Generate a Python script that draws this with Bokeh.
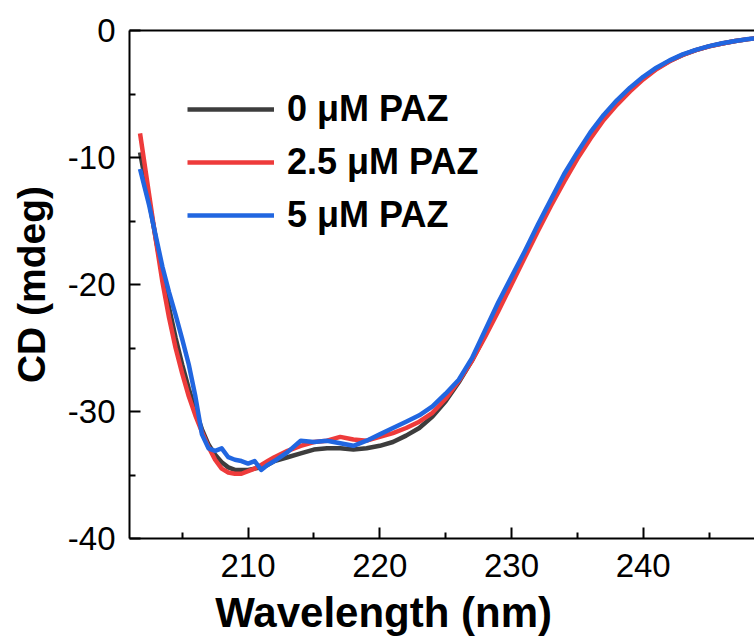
from bokeh.plotting import figure
from bokeh.models import FixedTicker, LinearAxis, Range1d, CustomJSTickFormatter
from bokeh.embed import file_html
from bokeh.resources import INLINE

wavelength = [201.8, 202.5, 203, 203.5, 204, 204.5, 205, 205.5, 206, 206.5, 207, 207.5,
              208, 208.5, 209, 209.5, 210, 210.5, 211, 211.5, 212, 213, 214, 215, 216,
              217, 218, 219, 220, 221, 222, 223, 224, 225, 226, 227, 228, 229, 230, 231,
              232, 233, 234, 235, 236, 237, 238, 239, 240, 241, 242, 243, 244, 245, 246,
              247, 248, 249, 250]

cd_0uM = [-9.6, -13.5, -16.4, -19.2, -21.8, -24.2, -26.3, -28.2, -29.9, -31.4, -32.6, -33.4,
          -34.0, -34.4, -34.6, -34.6, -34.6, -34.5, -34.4, -34.2, -33.9, -33.6, -33.3, -33.0,
          -32.9, -32.9, -33.0, -32.9, -32.7, -32.4, -31.9, -31.3, -30.4, -29.2, -27.7, -26.0,
          -24.0, -21.9, -19.8, -17.7, -15.6, -13.6, -11.6, -9.9, -8.3, -6.9, -5.7, -4.65, -3.75,
          -3.0, -2.4, -1.92, -1.55, -1.25, -1.02, -0.83, -0.68, -0.57, -0.5]

cd_2_5uM = [-8.1, -13.0, -16.5, -19.8, -22.6, -25.0, -27.0, -28.8, -30.3, -31.6, -32.8, -33.8,
            -34.5, -34.8, -34.9, -34.9, -34.7, -34.5, -34.2, -33.9, -33.6, -33.1, -32.7, -32.4,
            -32.3, -32.0, -32.2, -32.3, -32.0, -31.7, -31.3, -30.8, -30.1, -29.0, -27.6, -26.0,
            -24.1, -22.1, -20.0, -17.9, -15.8, -13.8, -11.9, -10.1, -8.5, -7.05, -5.85, -4.8, -3.85,
            -3.05, -2.42, -1.93, -1.55, -1.25, -1.02, -0.83, -0.68, -0.57, -0.5]

cd_5uM = [-10.9, -13.8, -16.2, -18.6, -20.6, -22.4, -24.3, -26.3, -28.8, -31.8, -32.9, -33.1,
          -32.9, -33.6, -33.8, -33.9, -34.1, -33.9, -34.6, -34.2, -33.9, -33.2, -32.3, -32.4,
          -32.3, -32.5, -32.7, -32.3, -31.8, -31.3, -30.8, -30.3, -29.6, -28.6, -27.5, -25.8,
          -23.6, -21.4, -19.4, -17.4, -15.3, -13.3, -11.3, -9.6, -8.0, -6.65, -5.5, -4.5, -3.65,
          -2.93, -2.35, -1.88, -1.52, -1.23, -1.0, -0.82, -0.67, -0.57, -0.5]

series_labels = ["0 \u03bcM PAZ", "2.5 \u03bcM PAZ", "5 \u03bcM PAZ"]
series_colors = ["#3d3d3d", "#ee3b3b", "#2166e0"]

x_ticks = [210, 220, 230, 240]
x_minor = [205, 215, 225, 235, 245]
y_ticks = [-40, -30, -20, -10, 0]
y_minor = [-35, -25, -15, -5]

FONT = "Liberation Sans"

p = figure(width=754, height=639, output_backend="svg", toolbar_location=None,
           x_range=Range1d(201.0, 248.45), y_range=Range1d(-40, 0),
           min_border_left=129, min_border_right=0, min_border_top=30, min_border_bottom=101)
p.outline_line_color = None
p.grid.visible = False
p.background_fill_color = "white"
p.border_fill_color = "white"

for ys, lab, col in zip([cd_0uM, cd_2_5uM, cd_5uM], series_labels, series_colors):
    p.line(wavelength, ys, line_color=col, line_width=4.5, line_join="round",
           legend_label=lab)

fmt_code = "return tick.toString();"
for ax in [p.xaxis[0], p.yaxis[0]]:
    ax.axis_line_width = 2
    ax.axis_line_color = "black"
    ax.major_tick_in = 11
    ax.major_tick_out = 0
    ax.minor_tick_in = 6
    ax.minor_tick_out = 0
    ax.major_tick_line_width = 2
    ax.minor_tick_line_width = 2
    ax.major_tick_line_color = "black"
    ax.minor_tick_line_color = "black"
    ax.major_label_text_font = FONT
    ax.major_label_text_font_size = "33px"
    ax.major_label_text_color = "black"
    ax.formatter = CustomJSTickFormatter(code=fmt_code)

p.xaxis[0].ticker = FixedTicker(ticks=x_ticks, minor_ticks=x_minor)
p.yaxis[0].ticker = FixedTicker(ticks=y_ticks, minor_ticks=y_minor)
p.xaxis[0].major_label_standoff = 15
p.yaxis[0].major_label_standoff = 14

p.yaxis[0].axis_label = "CD (mdeg)"
p.yaxis[0].axis_label_text_font = FONT
p.yaxis[0].axis_label_text_font_style = "bold"
p.yaxis[0].axis_label_text_font_size = "39px"
p.yaxis[0].axis_label_text_color = "black"
p.yaxis[0].axis_label_standoff = 12

# trailing no-break spaces move the centred label left, as in the reference
p.xaxis[0].axis_label = "Wavelength (nm)" + "\u00a0" * 10
p.xaxis[0].axis_label_text_font = FONT
p.xaxis[0].axis_label_text_font_style = "bold"
p.xaxis[0].axis_label_text_font_size = "42px"
p.xaxis[0].axis_label_text_color = "black"
p.xaxis[0].axis_label_standoff = 9

top_axis = LinearAxis(ticker=FixedTicker(ticks=[]), major_label_text_font_size="0px",
                      axis_line_width=2, axis_line_color="black",
                      major_tick_line_color=None, minor_tick_line_color=None)
p.add_layout(top_axis, "above")

lg = p.legend[0]
lg.location = "top_left"
lg.margin = 58
lg.padding = 10
lg.border_line_color = None
lg.background_fill_alpha = 0
lg.label_text_font = FONT
lg.label_text_font_style = "bold"
lg.label_text_font_size = "36px"
lg.label_text_color = "black"
lg.glyph_width = 87
lg.glyph_height = 40
lg.label_height = 40
lg.spacing = 11
lg.label_standoff = 13

open("out.html", "w").write(file_html(p, INLINE))
